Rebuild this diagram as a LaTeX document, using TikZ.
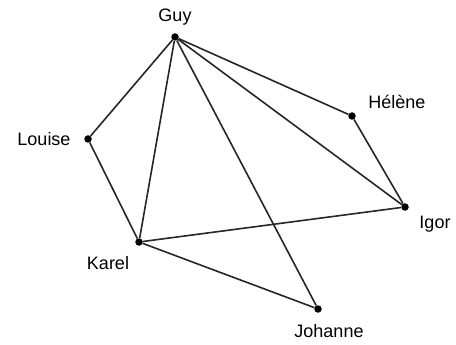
\documentclass[tikz,border=0pt]{standalone}
\usepackage{fontspec}
\setmainfont{Liberation Sans}
\usetikzlibrary{positioning}

\begin{document}
\begin{tikzpicture}[
  x=1pt,y=-1pt,
  dot/.style={circle,fill=black,inner sep=0pt,minimum size=7.5pt},
  lbl/.style={inner sep=0pt,font=\fontsize{18}{21}\selectfont,text=black},
  edge/.style={line width=1.6pt,black!85}
]
\useasboundingbox (0,0) rectangle (456,345);

% people
\node[dot] (guy)     at (175,37)  {};
\node[dot] (helene)  at (352,116) {};
\node[dot] (louise)  at (88,139)  {};
\node[dot] (igor)    at (405,207) {};
\node[dot] (karel)   at (139,242) {};
\node[dot] (johanne) at (318,309) {};

% names
\node[lbl] (guy-l)     at (175,17)  {Guy};
\node[lbl] (helene-l)  at (397,102) {Hélène};
\node[lbl] (louise-l)  at (44,139)  {Louise};
\node[lbl] (igor-l)    at (435,224) {Igor};
\node[lbl] (karel-l)   at (108,263) {Karel};
\node[lbl] (johanne-l) at (329,331) {Johanne};

% acquaintances
\draw[edge] (guy) -- (louise);
\draw[edge] (guy) -- (karel);
\draw[edge] (guy) -- (johanne);
\draw[edge] (guy) -- (helene);
\draw[edge] (guy) -- (igor);
\draw[edge] (louise) -- (karel);
\draw[edge] (helene) -- (igor);
\draw[edge] (karel) -- (igor);
\draw[edge] (karel) -- (johanne);
\end{tikzpicture}
\end{document}
